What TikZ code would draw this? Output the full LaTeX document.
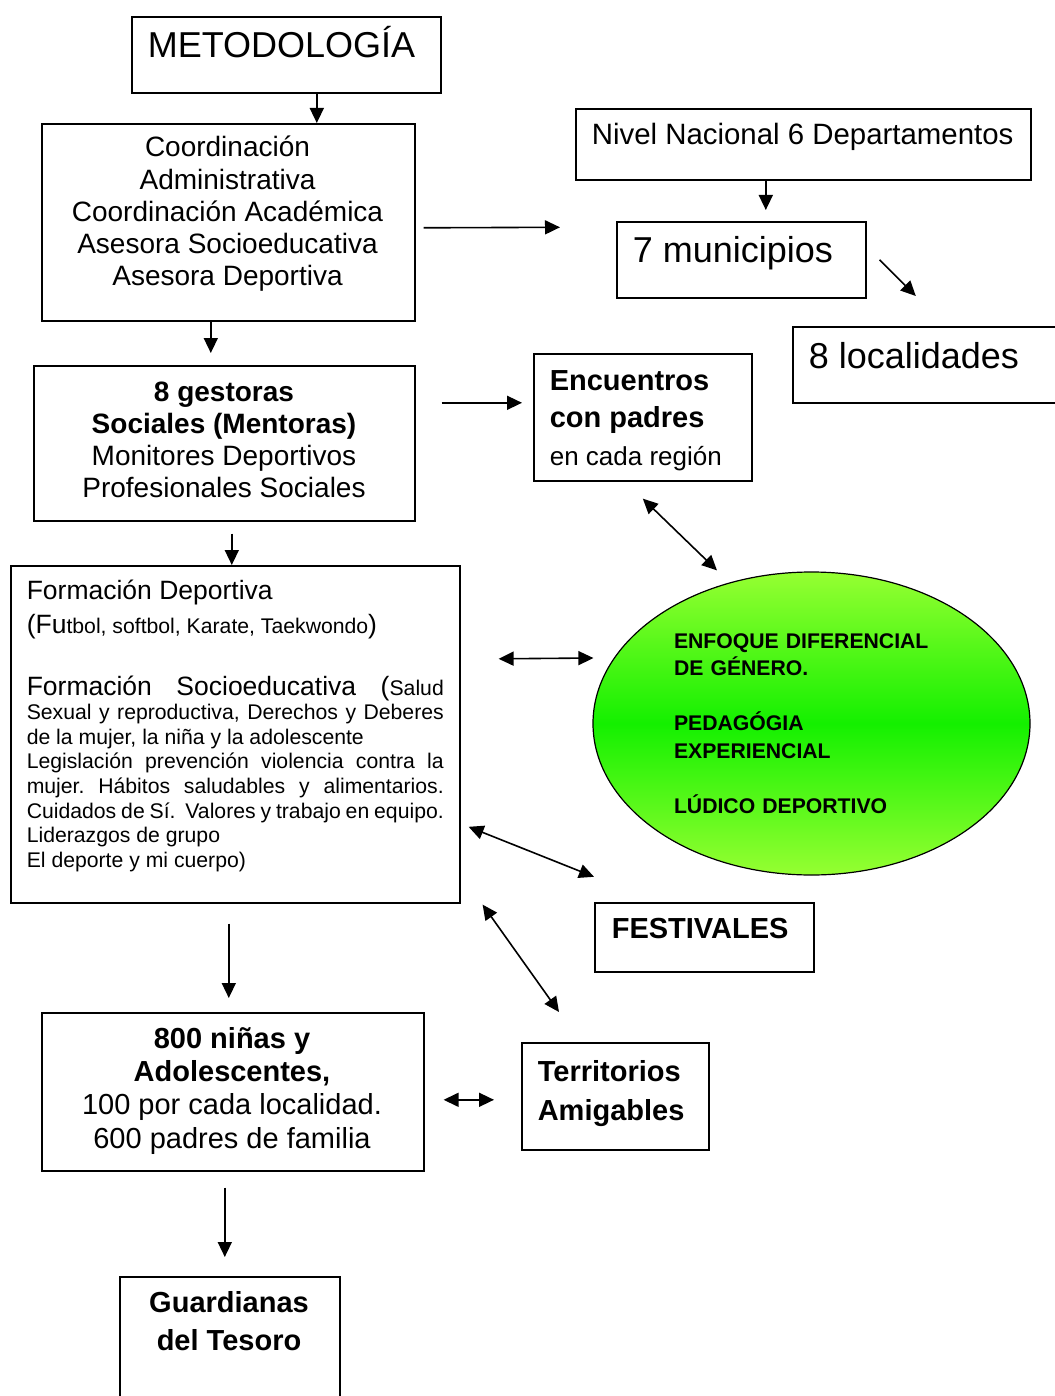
\documentclass[tikz,border=0pt]{standalone}
\usepackage{fontspec}
\setmainfont{Liberation Sans}
\usetikzlibrary{arrows.meta,shapes.geometric}

\definecolor{lgreen}{RGB}{150,255,50}
\definecolor{mgreen}{RGB}{20,240,0}
\newcommand{\fsz}[2]{\fontsize{#1}{#2}\selectfont}

\begin{document}
\frenchspacing
\begin{tikzpicture}[x=1pt, y=-1pt, line width=1.6pt,
    box/.style={draw, anchor=north west, inner sep=0pt},
    txt/.style={inner sep=0pt, anchor=base west, align=left},
    ctxt/.style={inner sep=0pt, anchor=base, align=center},
    arr/.style={-{Triangle[length=15pt,width=14pt]}},
    dbl/.style={{Triangle[length=15pt,width=14pt]}-{Triangle[length=15pt,width=14pt]}}]

    \useasboundingbox (0,0) rectangle (1054,1396);

    % left column (multi-line texts sit on the baseline of their last line)
    \node[box, minimum width=309pt, minimum height=76pt] (metod) at (131,16) {};
    \node[txt, font=\fsz{36}{41}] (metodtxt) at (147,58) {METODOLOGÍA};

    \node[box, minimum width=373pt, minimum height=197pt] (coord) at (41,123) {};
    \node[ctxt, font=\fsz{28}{32.3}] (coordtxt) at (227.5,286)
        {Coordinación\\Administrativa\\Coordinación Académica\\Asesora Socioeducativa\\Asesora Deportiva};

    \node[box, minimum width=381pt, minimum height=155pt] (gest) at (33,365) {};
    \node[ctxt, font=\fsz{28}{32}] (gesttxt) at (224,497)
        {\textbf{8 gestoras}\\\textbf{Sociales (Mentoras)}\\Monitores Deportivos\\Profesionales Sociales};

    \node[box, minimum width=449pt, minimum height=337pt] (form) at (10,565) {};
    \node[txt, font=\fsz{26.5}{30}] (fdeptxt) at (26,599) {Formación Deportiva};
    \node[txt, font=\fsz{21.2}{24.6}] (fdeplist) at (26,633)
        {{\fsz{26.5}{30}(Fu}tbol, softbol, Karate, Taekwondo{\fsz{26.5}{30})}};
    \node[txt, align=justify, text width=417pt, font=\fsz{21.2}{24.6}] (fsoctxt) at (26,695) {%
        \makebox[417pt][s]{{\fsz{26.5}{30}Formación Socioeducativa (}Salud}\\
        \makebox[417pt][s]{Sexual y reproductiva, Derechos y Deberes}\\
        de la mujer, la niña y la adolescente\\
        \makebox[417pt][s]{Legislación prevención violencia contra la}\\
        \makebox[417pt][s]{mujer. Hábitos saludables y alimentarios.}\\
        \makebox[417pt][s]{Cuidados de Sí.\ \ Valores y trabajo en equipo.}\\
        Liderazgos de grupo\\
        El deporte y mi cuerpo)};

    \node[box, minimum width=382pt, minimum height=158pt] (cien) at (41,1012) {};
    \node[ctxt, font=\fsz{29}{33.3}] (cientxt) at (232,1148)
        {\textbf{800 niñas y}\\\textbf{Adolescentes,}\\100 por cada localidad.\\600 padres de familia};

    \node[box, minimum width=220pt, minimum height=140pt] (guard) at (119,1276) {};
    \node[ctxt, font=\fsz{29}{38}\bfseries] (guardtxt) at (229,1350) {Guardianas\\del Tesoro};

    % right column
    \node[box, minimum width=455pt, minimum height=71pt] (nivel) at (575,108) {};
    \node[txt, font=\fsz{29.4}{33}] (niveltxt) at (591,145) {Nivel Nacional 6 Departamentos};

    \node[box, minimum width=249pt, minimum height=76pt] (muni) at (616,221) {};
    \node[txt, font=\fsz{36}{41}] (munitxt) at (632,263) {7 municipios};

    \node[box, minimum width=280pt, minimum height=76pt] (local) at (792,326) {};
    \node[txt, font=\fsz{36}{41}] (localtxt) at (808,368) {8 localidades};

    \node[box, minimum width=218pt, minimum height=127pt] (encu) at (533,353) {};
    \node[txt, font=\fsz{29}{37.5}] (encutxt) at (549,465)
        {\textbf{Encuentros}\\\textbf{con padres}\\{\fsz{26}{37.5}en cada región}};

    \node[ellipse, draw, line width=1.2pt, top color=lgreen, bottom color=lgreen, middle color=mgreen,
        minimum width=437pt, minimum height=303pt, text width=275pt, align=left,
        font={\fsz{21.2}{27.5}\bfseries}] (enfoque) at (811.5,723.5)
        {ENFOQUE DIFERENCIAL\\DE GÉNERO.\\[27.5pt]PEDAGÓGIA\\EXPERIENCIAL\\[27.5pt]LÚDICO DEPORTIVO};

    \node[box, minimum width=219pt, minimum height=69pt] (fest) at (594,902) {};
    \node[txt, font=\fsz{29}{34}\bfseries] (festtxt) at (611,938) {FESTIVALES};

    \node[box, minimum width=187pt, minimum height=107pt] (terr) at (521,1042) {};
    \node[txt, font=\fsz{29}{39}\bfseries] (terrtxt) at (537,1120) {Territorios\\Amigables};

    % arrows
    \draw[arr] ([xshift=30.5pt]metod.south) -- ([xshift=88.5pt]coord.north);
    \draw[arr] ([xshift=-17.5pt]coord.south) -- ([xshift=-13.5pt,yshift=12pt]gest.north);
    \draw[arr] ([xshift=7.5pt,yshift=-12pt]gest.south) -- ([xshift=-3.5pt]form.north);
    \draw[arr] ([xshift=-6.5pt,yshift=-20pt]form.south) -- ([xshift=-4pt,yshift=14pt]cien.north);
    \draw[arr] ([xshift=-8pt,yshift=-16pt]cien.south) -- ([xshift=-5pt,yshift=19pt]guard.north);
    \draw[arr] ([xshift=8pt,yshift=-5.5pt]coord.east) -- ([xshift=-56pt,yshift=32.5pt]muni.west);
    \draw[arr] ([xshift=-37.5pt]nivel.south) -- ([xshift=24.5pt,yshift=11pt]muni.north);
    \draw[arr] ([xshift=13pt]muni.east) -- ([xshift=-17pt,yshift=30pt]local.north);
    \draw[arr] ([xshift=26pt,yshift=40.5pt]gest.east) -- ([xshift=-11pt,yshift=14.5pt]encu.west);
    %
    \draw[dbl] ([yshift=-17pt]encu.south) -- ([xshift=-94.5pt,yshift=1pt]enfoque.north);
    \draw[dbl] ([xshift=38pt,yshift=75.5pt]form.east) -- ([xshift=1pt,yshift=65.5pt]enfoque.west);
    \draw[dbl] ([xshift=8pt,yshift=-92.5pt]form.east) -- ([yshift=60.5pt]fest.west);
    \draw[dbl] ([xshift=22pt,yshift=-1pt]form.south east) -- ([xshift=38pt,yshift=30pt]terr.north west);
    \draw[dbl] ([xshift=19pt,yshift=-8pt]cien.east) -- ([xshift=-27pt,yshift=-3.5pt]terr.west);
\end{tikzpicture}
\end{document}
